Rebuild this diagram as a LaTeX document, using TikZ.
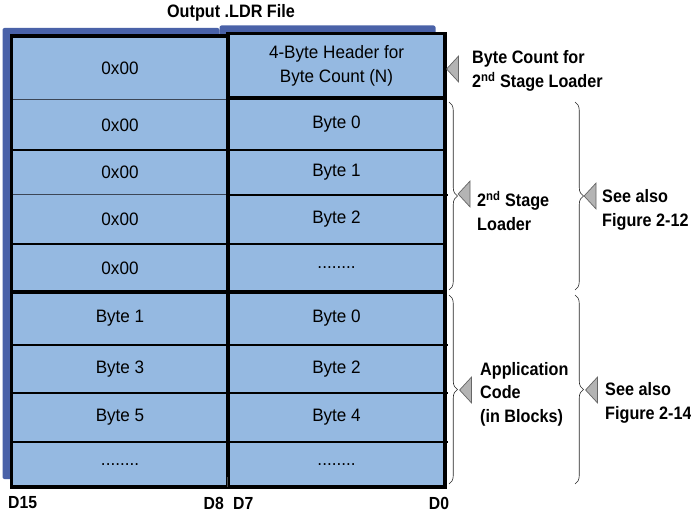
\documentclass[tikz,border=0pt]{standalone}
\usepackage{fontspec}
\setmainfont{Liberation Sans}[FakeStretch=0.95, BoldFeatures={FakeStretch=0.9}]
\usetikzlibrary{shapes.geometric,decorations.pathreplacing}
\definecolor{cellblue}{HTML}{95B9E1}
\definecolor{shadowblue}{HTML}{4A62A8}
\definecolor{trigray}{HTML}{B4B4B4}
\definecolor{thinline}{HTML}{3C4656}
\begin{document}
\begin{tikzpicture}[x=1pt,y=-1pt,
  cell/.style={rectangle, fill=cellblue, minimum width=217pt, inner sep=0pt, align=center,
    font=\fontsize{18}{24}\selectfont},
  lbl/.style={anchor=west, align=left, inner sep=0pt, font=\fontsize{18}{23.5}\selectfont\bfseries},
  tri/.style={isosceles triangle, isosceles triangle stretches=true, shape border rotate=180,
    minimum width=26pt, minimum height=12pt, inner sep=0pt, fill=trigray, draw=black!60, line width=0.7pt},
  thick frame/.style={line width=3.5pt, line cap=rect},
  rowline/.style={line width=1.8pt, black},
  thinrow/.style={line width=1.2pt, thinline},
  bracegrp/.style={decorate, decoration={brace, amplitude=8.5pt}, line width=0.6pt, black!85},
  btm/.style={inner sep=0pt, font=\fontsize{17.5}{19}\selectfont\bfseries}
]
\useasboundingbox (0,0) rectangle (691,513);

% title
\node[inner sep=0pt, font=\fontsize{18}{20}\selectfont\bfseries] (title) at (231,13) {Output .LDR File};

% shadows
\fill[shadowblue, rounded corners=2pt] (2.5,28) rectangle (219.5,479);
\fill[shadowblue, rounded corners=2pt] (219.5,25.5) rectangle (435.5,479);

% left column cells
\node[cell, minimum height=64pt] (L0) at (120,68) {0x00};
\node[cell, minimum height=50pt] (L1) at (120,125) {0x00};
\node[cell, minimum height=45pt] (L2) at (120,172.5) {0x00};
\node[cell, minimum height=49pt] (L3) at (120,219.5) {0x00};
\node[cell, minimum height=48pt] (L4) at (120,268) {0x00};
\node[cell, minimum height=53pt] (L5) at (120,318.5) {Byte 1};
\node[cell, minimum height=48pt] (L6) at (120,369) {Byte 3};
\node[cell, minimum height=49pt] (L7) at (120,417.5) {Byte 5};
\node[cell, minimum height=45pt] (L8) at (120,464.5) {........};

% right column cells
\node[cell, minimum height=64.5pt] (R0) at (336.5,65.75) {4-Byte Header for\\Byte Count (N)};
\node[cell, minimum height=52pt] (R1) at (336.5,124) {Byte 0};
\node[cell, minimum height=45pt] (R2) at (336.5,172.5) {Byte 1};
\node[cell, minimum height=49pt] (R3) at (336.5,219.5) {Byte 2};
\node[cell, minimum height=48pt] (R4) at (336.5,268) {........};
\node[cell, minimum height=53pt] (R5) at (336.5,318.5) {Byte 0};
\node[cell, minimum height=48pt] (R6) at (336.5,369) {Byte 2};
\node[cell, minimum height=49pt] (R7) at (336.5,417.5) {Byte 4};
\node[cell, minimum height=45pt] (R8) at (336.5,464.5) {........};

% row lines
\draw[thinrow] (L1.north west) -- (L1.north east);
\draw[rowline] (L2.north west) -- (L2.north east);
\draw[thinrow] (L3.north west) -- (L3.north east);
\draw[rowline] (L4.north west) -- (L4.north east);
\draw[rowline] (L6.north west) -- (L6.north east);
\draw[rowline] (L7.north west) -- (L7.north east);
\draw[rowline] (L8.north west) -- (L8.north east);
\draw[rowline] (R2.north west) -- (R2.north east);
\draw[rowline] (R3.north west) -- ([xshift=3pt]R3.north east);
\draw[rowline] (R4.north west) -- (R4.north east);
\draw[rowline] (R6.north west) -- ([xshift=3pt]R6.north east);
\draw[rowline] (R7.north west) -- ([xshift=3pt]R7.north east);
\draw[rowline] (R8.north west) -- ([xshift=3pt]R8.north east);

% thick frames
\draw[thick frame] (L0.north west) rectangle (L8.south east);
\draw[thick frame] (R0.north west) rectangle (R8.south east);
\draw[thick frame] (R0.south west) -- (R0.south east);
\draw[thick frame] (L5.north west) -- (R5.north east);
\draw[line width=0.8pt, black!70] (R8.south west) -- ([yshift=10pt]R8.south west);

% bottom labels
\node[btm, anchor=west] (d15) at (8,503) {D15};
\node[btm, anchor=east] (d8) at (224,503) {D8};
\node[btm, anchor=west] (d7) at (233,503) {D7};
\node[btm] (d0) at (439,503) {D0};

% braces
\coordinate (b1t) at (449,102);
\coordinate (b1b) at (449,290);
\coordinate (b2t) at (449,295);
\coordinate (b2b) at (449,484);
\coordinate (c1t) at (575,102);
\coordinate (c1b) at (575,290);
\coordinate (c2t) at (575,295);
\coordinate (c2b) at (575,484);
\draw[bracegrp] (b1t) -- (b1b);
\draw[bracegrp] (b2t) -- (b2b);
\draw[bracegrp] (c1t) -- (c1b);
\draw[bracegrp] (c2t) -- (c2b);

% triangles
\node[tri] (t1) at (453.5,69) {};
\node[tri] (t2) at (465,194) {};
\node[tri] (t3) at (591,196) {};
\node[tri] (t4) at (466.5,390) {};
\node[tri] (t5) at (592.5,390) {};

% labels
\node[lbl] (lab1) at (472,71) {Byte Count for\\2\textsuperscript{nd} Stage Loader};
\node[lbl] (lab2) at (477,211) {2\textsuperscript{nd} Stage\\Loader};
\node[lbl] (lab3) at (602,210) {See also\\Figure 2-12};
\node[lbl] (lab4) at (480,394) {Application\\Code\\(in Blocks)};
\node[lbl] (lab5) at (605,403) {See also\\Figure 2-14};
\end{tikzpicture}
\end{document}
